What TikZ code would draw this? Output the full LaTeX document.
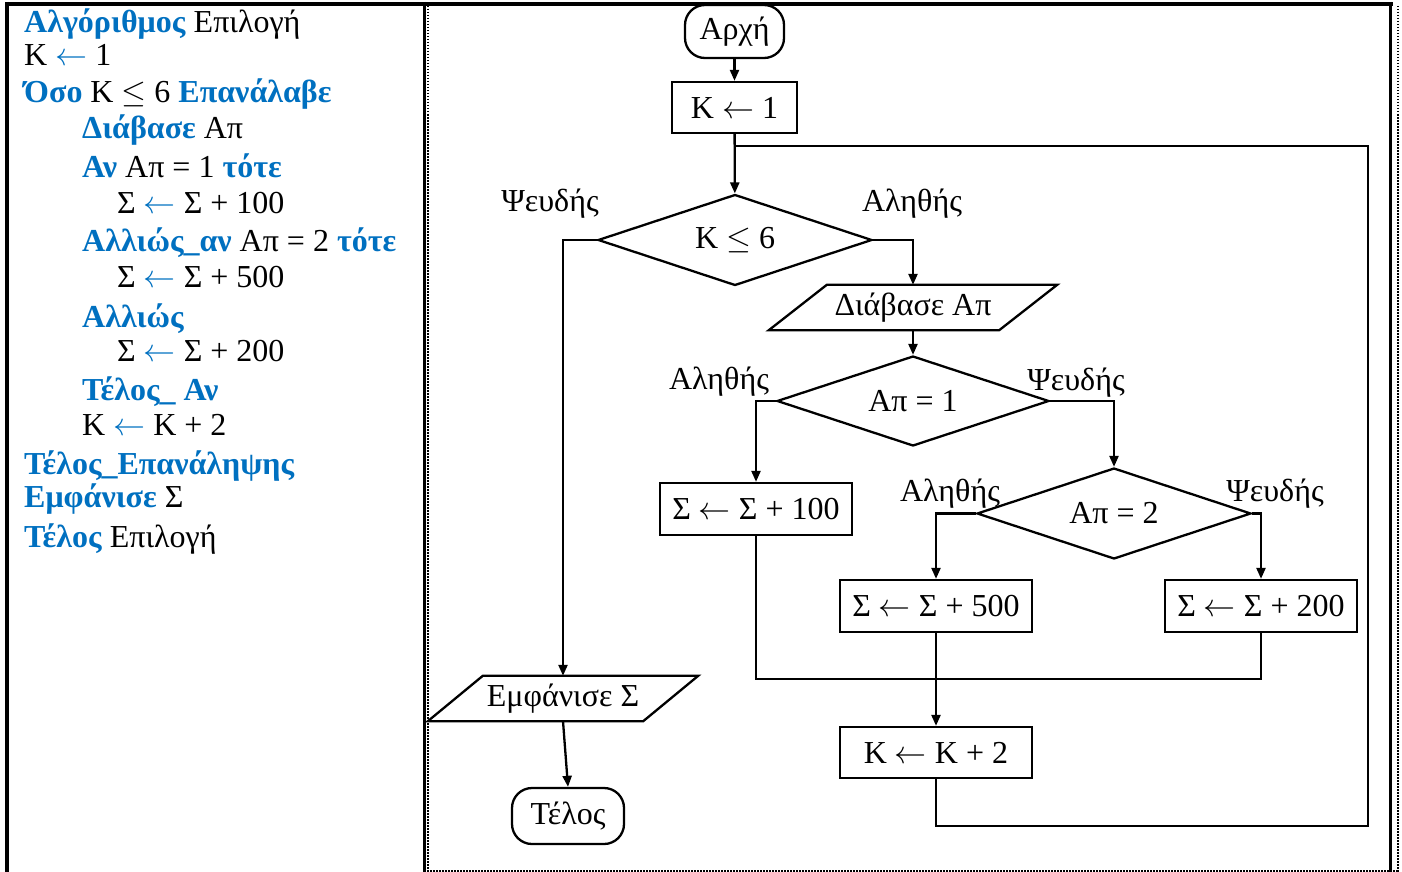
\RequirePackage{fix-cm}
\documentclass[tikz,border=0pt]{standalone}
\usepackage{fontspec}
\setmainfont{Liberation Serif}
\usetikzlibrary{shapes.geometric,arrows.meta}
\definecolor{kwblue}{HTML}{0070C0}
\newcommand\kw[1]{\textcolor{kwblue}{\textbf{#1}}}
\newcommand\la{\ensuremath{\leftarrow}}
\newcommand\bla{\textcolor{kwblue}{\la}}
\newcommand\lee{\ensuremath{\leq}}
\newcommand\fcfont{\fontsize{32}{37}\selectfont}
\newcommand\lsfont{\fontsize{32}{37}\selectfont}
% parallelogram drawn around a rectangular text node
\newcommand\slantbox[2]{\draw[line width=2.3pt,line join=miter]
  ([xshift=#2]#1.north west) -- ([xshift=#2]#1.north east) --
  ([xshift=-#2]#1.south east) -- ([xshift=-#2]#1.south west) -- cycle;}
\tikzset{
  lt/.style={anchor=base west,inner sep=0pt,text depth=0pt,text height=20pt,font=\lsfont},
  flow/.style={line width=2.3pt},
  arr/.style={flow,-{Triangle[length=11pt,width=9pt]}},
  proc/.style={draw,line width=2.3pt,rectangle,inner sep=0pt,minimum height=52pt,font=\fcfont},
  term/.style={draw,line width=2.3pt,rectangle,rounded corners=20pt,inner sep=0pt,font=\fcfont},
  dec/.style={draw,line width=2.3pt,diamond,aspect=3,inner sep=0pt,minimum width=274pt,minimum height=91pt,font=\fcfont},
  io/.style={rectangle,inner sep=0pt,minimum height=45pt,font=\fcfont},
  lab/.style={inner sep=0pt,font=\fcfont},
  dotline/.style={line width=2pt,dash pattern=on 1.5pt off 1.5pt},
}
\begin{document}
\begin{tikzpicture}[x=1pt,y=-1pt]
\useasboundingbox (0,0) rectangle (1402,872);

% table frame
\draw[line width=4pt] (5,3.7) -- (1392.5,3.7);
\draw[line width=4pt] (7,2) -- (7,872);
\draw[line width=3.5pt] (424.5,2) -- (424.5,872);
\draw[dotline] (427.5,6) -- (427.5,872);
\draw[line width=3.5pt] (1390.7,2) -- (1390.7,872);
\draw[dotline] (1398,6) -- (1398,872);
\draw[dotline] (427,871) -- (1399,871);

% pseudocode
\node[lt] (l1)  at (24,33)   {\kw{Αλγόριθμος} Επιλογή};
\node[lt] (l2)  at (24,66)   {Κ \bla{} 1};
\node[lt] (l3)  at (24,103)  {\kw{Όσο} Κ \lee{} 6 \kw{Επανάλαβε}};
\node[lt] (l4)  at (82,139)  {\kw{Διάβασε} Απ};
\node[lt] (l5)  at (82,177)  {\kw{Αν} Απ = 1 \kw{τότε}};
\node[lt] (l6)  at (117,213) {Σ \bla{} Σ + 100};
\node[lt] (l7)  at (82,251)  {\kw{Αλλιώς\_αν} Απ = 2 \kw{τότε}};
\node[lt] (l8)  at (117,287) {Σ \bla{} Σ + 500};
\node[lt] (l9)  at (82,327)  {\kw{Αλλιώς}};
\node[lt] (l10) at (117,361) {Σ \bla{} Σ + 200};
\node[lt] (l11) at (82,400)  {\kw{Τέλος\_ Αν}};
\node[lt] (l12) at (82,435)  {Κ \bla{} Κ + 2};
\node[lt] (l13) at (24,474)  {\kw{Τέλος\_Επανάληψης}};
\node[lt] (l14) at (24,507)  {\kw{Εμφάνισε} Σ};
\node[lt] (l15) at (24,547)  {\kw{Τέλος} Επιλογή};

% flowchart nodes
\node[term,minimum width=99pt,minimum height=53pt] (start) at (734.5,31.5) {Αρχή};
\node[proc,minimum width=125pt,minimum height=51pt] (k1) at (734.5,107.5) {Κ \la{} 1};
\node[dec] (d1) at (735,240) {Κ \lee{} 6};
\node[io,minimum width=230pt] (read) at (913,307.5) {Διάβασε Απ};
\slantbox{read}{29pt}
\node[dec,minimum width=272pt,minimum height=90pt] (d2) at (913,401) {Απ = 1};
\node[proc,minimum width=192pt] (s100) at (756,509) {Σ \la{} Σ + 100};
\node[dec] (d3) at (1114,513.5) {Απ = 2};
\node[proc,minimum width=192pt] (s500) at (936,606) {Σ \la{} Σ + 500};
\node[proc,minimum width=192pt] (s200) at (1261,606) {Σ \la{} Σ + 200};
\node[proc,minimum width=192pt,minimum height=51pt] (k2) at (936,752.5) {Κ \la{} Κ + 2};
\node[io,minimum width=215pt] (show) at (563,698.5) {Εμφάνισε Σ};
\slantbox{show}{27.5pt}
\node[term,minimum width=112pt,minimum height=56pt] (end) at (568,816) {Τέλος};

% branch labels
\node[lab] (f1) at (550,204) {Ψευδής};
\node[lab] (t1) at (912,204) {Αληθής};
\node[lab] (t2) at (719,382) {Αληθής};
\node[lab] (f2) at (1076,383) {Ψευδής};
\node[lab] (t3) at (950,494) {Αληθής};
\node[lab] (f3) at (1275,494) {Ψευδής};

% connectors
\coordinate (join) at (936,679);
\coordinate (lb) at (1368,826);
\coordinate (lt) at (1368,146);
\coordinate (lj) at (734.5,146);

\draw[arr] (start) -- (k1);
\draw[arr] (k1) -- (d1);
\draw[arr] (d1.east) -| (read.north);
\draw[arr] (d1.west) -| (show.north);
\draw[arr] (show.south) -- (end.north);
\draw[arr] (read.south) -- (d2.north);
\draw[arr] (d2.west) -| (s100.north);
\draw[arr] (d2.east) -| (d3.north);
\draw[arr] (d3.west) -| (s500.north);
\draw[arr] (d3.east) -| (s200.north);
\draw[flow] (s100.south) |- (join) -| (s200.south);
\draw[arr] (s500.south) -- (k2.north);
\draw[flow] (k2.south) |- (lb) -- (lt) -- (lj);
\end{tikzpicture}
\end{document}
